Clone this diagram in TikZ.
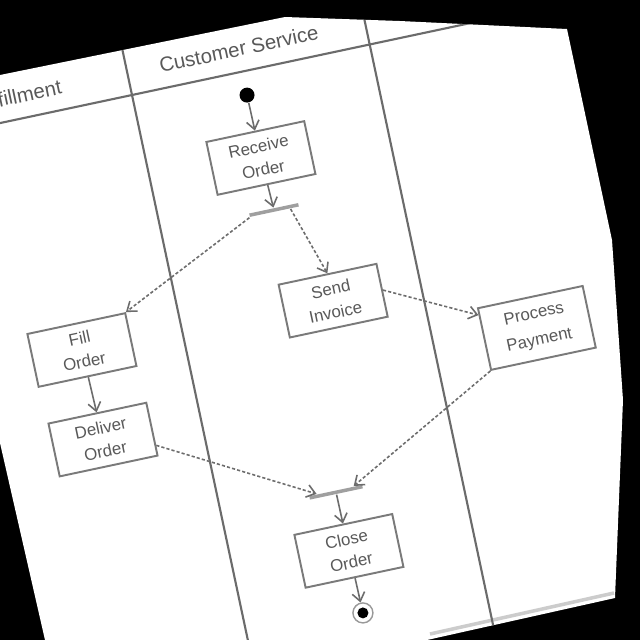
\documentclass[tikz,border=0pt]{standalone}
\usepackage{fontspec}
\setmainfont{Liberation Sans}
\usepackage{tikz}
\usetikzlibrary{arrows.meta, positioning, calc}

\definecolor{lanegray}{gray}{0.42}
\definecolor{boxgray}{gray}{0.48}
\definecolor{txtgray}{gray}{0.35}

% outline of the photographed sheet
\newcommand{\sheetpath}{(0,-0.75) -- (2.85,-0.17) -- (4.00,-0.21) -- (5.67,-0.29) -- (6.12,-2.40) -- (6.23,-4.00) -- (6.15,-5.98) -- (4.27,-6.4) -- (0.45,-6.4) -- (0,-4.43) -- cycle}

\begin{document}
\begin{tikzpicture}[>={Straight Barb[length=2.4pt,width=3.6pt]},
	act/.style={draw=boxgray, line width=0.55pt, rectangle, fill=white, minimum width=1cm, minimum height=0.54cm, inner sep=0pt, align=center, text=txtgray, font=\fontsize{4.8}{6.7}\selectfont, transform shape},
	bar/.style={fill=gray!75, rectangle, minimum width=0.5cm, minimum height=0.035cm, inner sep=0pt, transform shape},
	initial/.style={circle, fill=black, minimum size=0.15cm, inner sep=0pt},
	final/.style={circle, draw=gray!80, fill=white, minimum size=0.2cm, inner sep=0pt, path picture={\fill[black] (path picture bounding box.center) circle (0.055);}},
	flow/.style={->, draw=gray!85!black, line width=0.45pt},
	objflow/.style={flow, dash pattern=on 0.9pt off 0.6pt},
	lane/.style={draw=lanegray, line width=0.6pt},
	lanetitle/.style={text=txtgray, font=\fontsize{5.8}{7}\selectfont, transform shape}]
	\useasboundingbox (0,0) rectangle (6.4,-6.4);
	\fill[black] (0,0) rectangle (6.4,-6.4);
	\fill[white] \sheetpath;
	\draw[gray!40, line width=1pt] (6.14,-5.93) -- (4.3,-6.34);
	
	\begin{scope}
		\clip \sheetpath;
		\begin{scope}[shift={(1.32,-0.95)}, rotate=12]
			% swimlanes
			\draw[lane] (-3,0) -- (5.5,0);
			\draw[lane] (0,0.6) -- (0,-7);
			\draw[lane] (2.43,0.6) -- (2.43,-7);
			\node[lanetitle] (fulfil) at (-1.14,0.23) {Fulfillment};
			\node[lanetitle] (custserv) at (1.14,0.23) {Customer Service};
			
			\node[initial] (init) at (1.125,-0.24) {};
			\node[act] (receive) at (1.13,-0.884) {Receive\\Order};
			\node[bar] (fork) at (1.15,-1.42) {};
			\node[act] (fill) at (-1.02,-2.39) {Fill\\Order};
			\node[act] (send) at (1.54,-2.43) {Send\\Invoice};
			\node[act, minimum width=1.07cm, minimum height=0.63cm, font=\fontsize{4.8}{7.6}\selectfont] (pay) at (3.476,-3.12) {Process\\Payment};
			\node[act] (deliver) at (-1.00,-3.31) {Deliver\\Order};
			\node[bar, minimum width=0.54cm] (join) at (1.17,-4.31) {};
			\node[act] (close) at (1.174,-4.91) {Close\\Order};
			\node[final] (finish) at (1.182,-5.546) {};
			
			\draw[flow] (init) -- (receive);
			\draw[flow] (receive) -- (fork);
			\draw[objflow] (fork.south west) -- (fill.north east);
			\draw[objflow] ($(fork.south)!0.64!(fork.south east)$) -- (send.north);
			\draw[objflow] (send.east) -- ($(pay.north west)!0.12!(pay.south west)$);
			\draw[flow] (fill) -- (deliver);
			\draw[objflow] ($(deliver.south east)!0.2!(deliver.north east)$) -- ($(join.north)!0.7!(join.north west)$);
			\draw[objflow] (pay.south west) -- ($(join.north)!0.67!(join.north east)$);
			\draw[flow] (join) -- (close);
			\draw[flow] (close) -- (finish);
		\end{scope}
	\end{scope}
\end{tikzpicture}
\end{document}
